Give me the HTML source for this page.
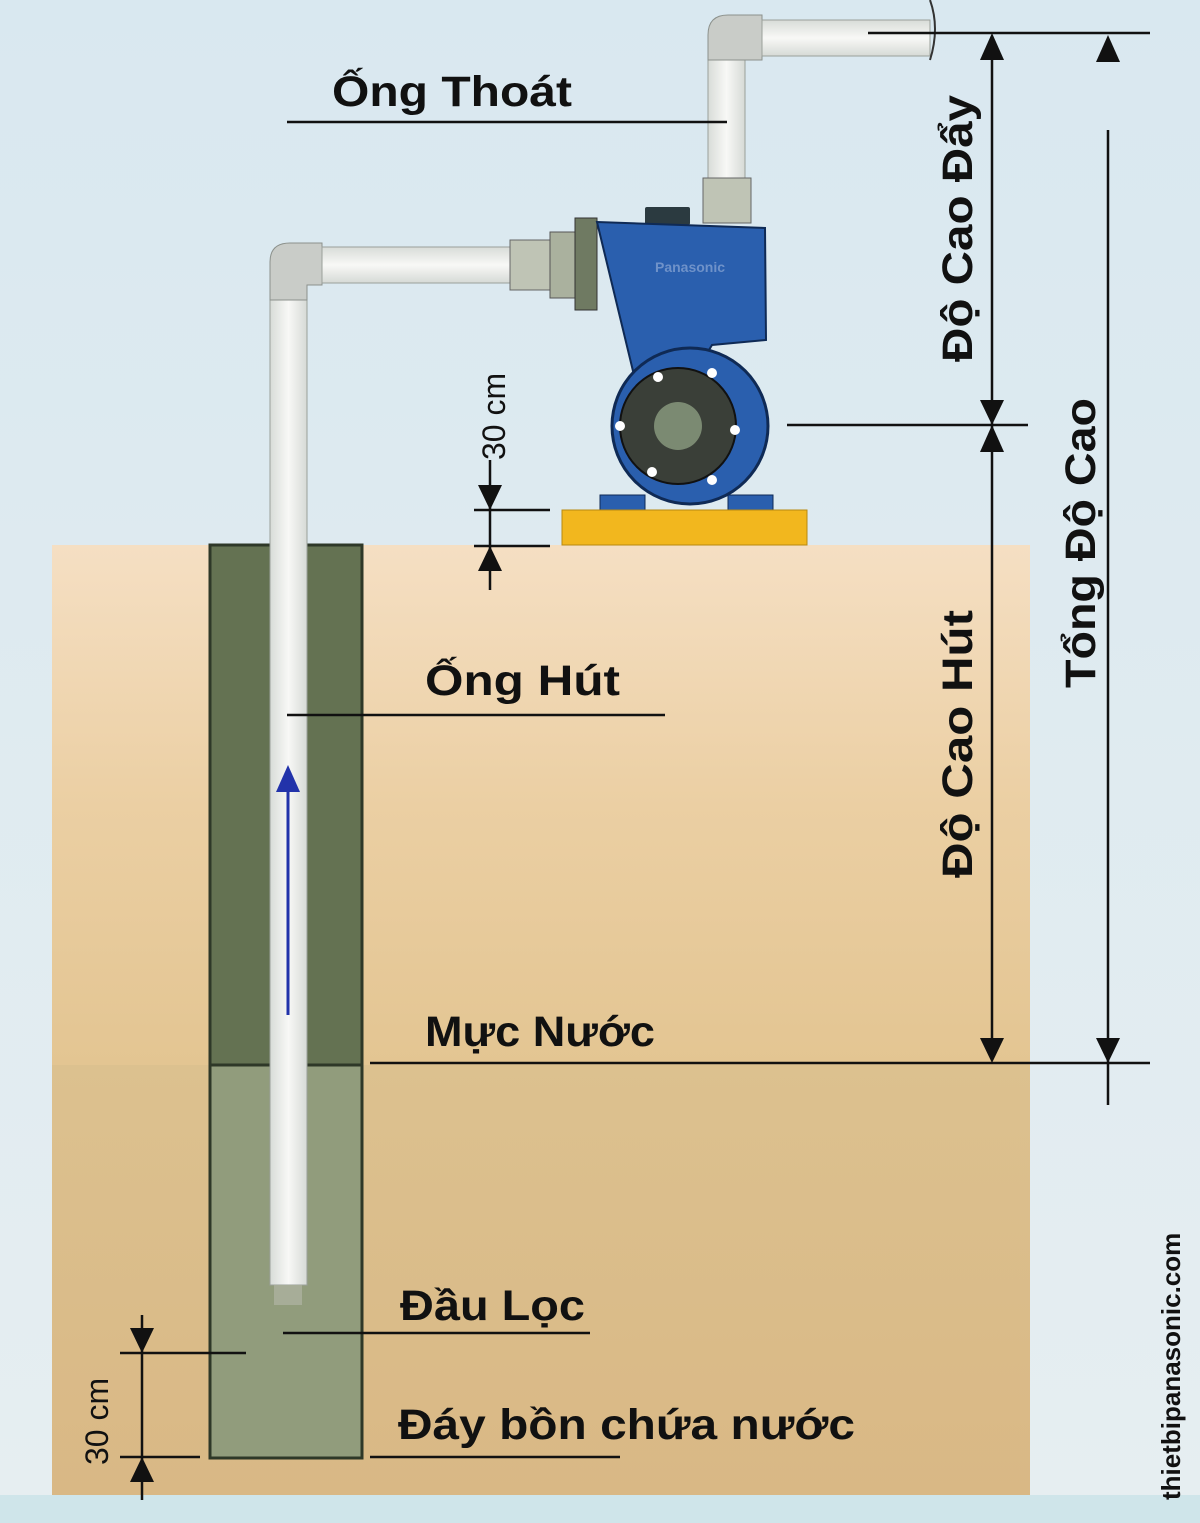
<!DOCTYPE html>
<html><head><meta charset="utf-8"><style>
html,body{margin:0;padding:0;width:1200px;height:1523px;overflow:hidden;background:#e3edf2}
svg{display:block}
text{font-family:"Liberation Sans",sans-serif;fill:#111}
</style></head><body>
<svg width="1200" height="1523" viewBox="0 0 1200 1523" xmlns="http://www.w3.org/2000/svg">
<defs>
<linearGradient id="sky" x1="0" y1="0" x2="0" y2="1"><stop offset="0" stop-color="#d9e8f0"/><stop offset="1" stop-color="#e6eef1"/></linearGradient>
<linearGradient id="soil" x1="0" y1="0" x2="0" y2="1"><stop offset="0" stop-color="#f5dfc3"/><stop offset="0.5" stop-color="#ebcfa3"/><stop offset="1" stop-color="#e3c592"/></linearGradient>
<linearGradient id="soil2" x1="0" y1="0" x2="0" y2="1"><stop offset="0" stop-color="#dcc18f"/><stop offset="1" stop-color="#d9b885"/></linearGradient>
<linearGradient id="pipe" x1="0" y1="0" x2="1" y2="0"><stop offset="0" stop-color="#d8dcd8"/><stop offset="0.5" stop-color="#f8f8f6"/><stop offset="1" stop-color="#d6dad6"/></linearGradient>
<linearGradient id="pipeh" x1="0" y1="0" x2="0" y2="1"><stop offset="0" stop-color="#d8dcd8"/><stop offset="0.5" stop-color="#f8f8f6"/><stop offset="1" stop-color="#d6dad6"/></linearGradient>
</defs>
<rect width="1200" height="1523" fill="url(#sky)"/>
<rect x="0" y="1495" width="1200" height="28" fill="#cfe5ea"/>
<rect x="52" y="545" width="978" height="520" fill="url(#soil)"/>
<rect x="52" y="1065" width="978" height="430" fill="url(#soil2)"/>
<rect x="210" y="545" width="152" height="520" fill="#647252" stroke="#2e3828" stroke-width="3"/>
<rect x="210" y="1065" width="152" height="393" fill="#919c7c" stroke="#2e3828" stroke-width="3"/>
<rect x="270" y="262" width="37" height="1023" fill="url(#pipe)" stroke="#9aa09a" stroke-width="1"/>
<rect x="274" y="1285" width="28" height="20" fill="#a7ad98"/>
<path d="M270 262 Q270 243 290 243 L322 243 L322 285 L307 285 L307 300 L270 300 Z" fill="#c9ccc8" stroke="#8c918c"/>
<rect x="322" y="247" width="190" height="36" fill="url(#pipeh)" stroke="#9aa09a"/>
<rect x="510" y="240" width="40" height="50" fill="#bfc4b5" stroke="#666"/>
<rect x="550" y="232" width="25" height="66" fill="#aab19e" stroke="#555"/>
<rect x="575" y="218" width="22" height="92" fill="#6f7a62" stroke="#333"/>
<line x1="288" y1="1015" x2="288" y2="790" stroke="#2233aa" stroke-width="3"/>
<polygon points="276,792 300,792 288,765" fill="#2233aa"/>
<rect x="708" y="60" width="37" height="120" fill="url(#pipe)" stroke="#9aa09a"/>
<path d="M708 60 L708 35 Q708 15 728 15 L762 15 L762 60 Z" fill="#c9ccc8" stroke="#8c918c"/>
<rect x="762" y="20" width="168" height="36" fill="url(#pipeh)" stroke="#9aa09a"/>
<path d="M930 0 Q940 28 930 60" fill="none" stroke="#333" stroke-width="2"/>
<rect x="703" y="178" width="48" height="45" fill="#bfc4b5" stroke="#666"/>
<rect x="645" y="207" width="45" height="18" fill="#2b3a40" rx="2"/>
<path d="M597 222 L765 228 L766 340 L712 345 L700 365 L640 400 Z" fill="#2a5fae" stroke="#0f2a55" stroke-width="2"/>
<text x="655" y="272" font-size="14" font-weight="bold" style="fill:#6f92c9">Panasonic</text>
<circle cx="690" cy="426" r="78" fill="#2a5fae" stroke="#0f2a55" stroke-width="3"/>
<circle cx="678" cy="426" r="58" fill="#3a3f38" stroke="#111" stroke-width="2"/>
<circle cx="678" cy="426" r="24" fill="#7b8a72"/>
<g fill="#fff"><circle cx="658" cy="377" r="5"/><circle cx="712" cy="373" r="5"/><circle cx="735" cy="430" r="5"/><circle cx="712" cy="480" r="5"/><circle cx="652" cy="472" r="5"/><circle cx="620" cy="426" r="5"/></g>
<rect x="600" y="495" width="45" height="15" fill="#2a5fae" stroke="#0f2a55"/>
<rect x="728" y="495" width="45" height="15" fill="#2a5fae" stroke="#0f2a55"/>
<rect x="562" y="510" width="245" height="35" fill="#f2b71e" stroke="#b88a10"/>
<g stroke="#111" stroke-width="2.5" fill="none">
<line x1="287" y1="122" x2="727" y2="122"/>
<line x1="287" y1="715" x2="665" y2="715"/>
<line x1="370" y1="1063" x2="1150" y2="1063"/>
<line x1="283" y1="1333" x2="590" y2="1333"/>
<line x1="370" y1="1457" x2="620" y2="1457"/>
<line x1="868" y1="33" x2="1150" y2="33"/>
<line x1="787" y1="425" x2="1028" y2="425"/>
<line x1="992" y1="40" x2="992" y2="1055"/>
<line x1="1108" y1="130" x2="1108" y2="1105"/>
<line x1="474" y1="510" x2="550" y2="510"/>
<line x1="474" y1="546" x2="550" y2="546"/>
<line x1="490" y1="460" x2="490" y2="590"/>
<line x1="120" y1="1353" x2="246" y2="1353"/>
<line x1="120" y1="1457" x2="200" y2="1457"/>
<line x1="142" y1="1315" x2="142" y2="1500"/>
</g>
<g fill="#111">
<polygon points="980,60 1004,60 992,33"/>
<polygon points="980,400 1004,400 992,425"/>
<polygon points="980,452 1004,452 992,425"/>
<polygon points="980,1038 1004,1038 992,1063"/>
<polygon points="1096,62 1120,62 1108,35"/>
<polygon points="1096,1038 1120,1038 1108,1063"/>
<polygon points="478,485 502,485 490,510"/>
<polygon points="478,571 502,571 490,546"/>
<polygon points="130,1328 154,1328 142,1353"/>
<polygon points="130,1482 154,1482 142,1457"/>
</g>
<g font-size="43" font-weight="bold">
<text x="332" y="106" textLength="240" lengthAdjust="spacingAndGlyphs">Ống Thoát</text>
<text x="425" y="695" textLength="195" lengthAdjust="spacingAndGlyphs">Ống Hút</text>
<text x="425" y="1046" textLength="230" lengthAdjust="spacingAndGlyphs">Mực Nước</text>
<text x="400" y="1320" textLength="185" lengthAdjust="spacingAndGlyphs">Đầu Lọc</text>
<text x="398" y="1439" textLength="457" lengthAdjust="spacingAndGlyphs">Đáy bồn chứa nước</text>
<text transform="translate(972,362) rotate(-90)" textLength="267" lengthAdjust="spacingAndGlyphs">Độ Cao Đẩy</text>
<text transform="translate(972,878) rotate(-90)" textLength="268" lengthAdjust="spacingAndGlyphs">Độ Cao Hút</text>
<text transform="translate(1095,688) rotate(-90)" textLength="290" lengthAdjust="spacingAndGlyphs">Tổng Độ Cao</text>
</g>
<text transform="translate(505,460) rotate(-90)" font-size="32">30 cm</text>
<text transform="translate(108,1465) rotate(-90)" font-size="32">30 cm</text>
<text transform="translate(1180,1500) rotate(-90)" font-size="26" font-weight="bold">thietbipanasonic.com</text>
</svg>
</body></html>
